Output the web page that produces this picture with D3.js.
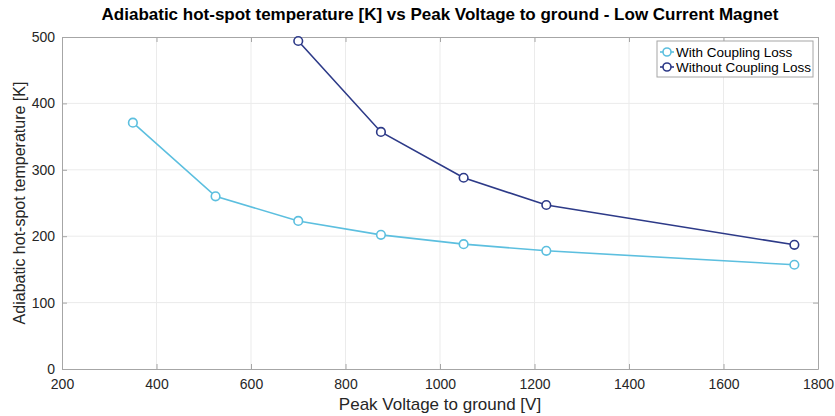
<!DOCTYPE html>
<html>
<head>
<meta charset="utf-8">
<script src="https://cdn.jsdelivr.net/npm/d3@7"></script>
<style>
    body { margin: 0; background: #fff; }
    text { font-family: "Liberation Sans", Arial, sans-serif; }
</style>
</head>
<body>
<div id="chart"></div>
<script>
// data
let voltWith = [350, 525, 700, 875, 1050, 1225, 1750];
let tempWith = [371, 260, 223, 202, 188, 178, 157];

let voltWithout = [700, 875, 1050, 1225, 1750];
let tempWithout = [494, 357, 288, 247, 187];

let xTicks = [200, 400, 600, 800, 1000, 1200, 1400, 1600, 1800];
let yTicks = [0, 100, 200, 300, 400, 500];

let seriesNames = ["With Coupling Loss", "Without Coupling Loss"];
let seriesColors = ["#5cbfdf", "#2d3a88"];

let width = 835, height = 416;
let margin = {top: 37, right: 17, bottom: 47, left: 62};
let w = width - margin.left - margin.right;
let h = height - margin.top - margin.bottom;

let svg = d3.select("#chart").append("svg")
    .attr("width", width)
    .attr("height", height);

let x = d3.scaleLinear().domain([200, 1800]).range([0, w]);
let y = d3.scaleLinear().domain([0, 500]).range([h, 0]);

let g = svg.append("g")
    .attr("transform", `translate(${margin.left},${margin.top})`);

// grid
g.selectAll(".xgrid").data(xTicks.slice(1, -1)).enter().append("line")
    .attr("x1", d => x(d)).attr("x2", d => x(d))
    .attr("y1", 0).attr("y2", h)
    .attr("stroke", "#ebebeb").attr("stroke-width", 1);

g.selectAll(".ygrid").data(yTicks.slice(1, -1)).enter().append("line")
    .attr("x1", 0).attr("x2", w)
    .attr("y1", d => y(d)).attr("y2", d => y(d))
    .attr("stroke", "#ebebeb").attr("stroke-width", 1);

// axes (matlab style, inward ticks on all four sides)
let tickStyle = axis => axis.call(a => a.select(".domain").attr("stroke", "#a6a6a6"))
    .call(a => a.selectAll(".tick line").attr("stroke", "#a6a6a6"))
    .call(a => a.selectAll(".tick text").attr("fill", "#262626").attr("font-size", "14px")
        .style("font-family", "Liberation Sans, Arial, sans-serif"));

let fmt = d3.format("d");

g.append("g")
    .attr("transform", `translate(0,${h})`)
    .call(d3.axisBottom(x).tickValues(xTicks).tickSize(-5).tickSizeOuter(0).tickPadding(10).tickFormat(fmt))
    .call(tickStyle);

g.append("g")
    .call(d3.axisTop(x).tickValues(xTicks).tickSize(-5).tickSizeOuter(0).tickFormat(""))
    .call(tickStyle);

g.append("g")
    .call(d3.axisLeft(y).tickValues(yTicks).tickSize(-5).tickSizeOuter(0).tickPadding(7).tickFormat(fmt))
    .call(tickStyle);

g.append("g")
    .attr("transform", `translate(${w},0)`)
    .call(d3.axisRight(y).tickValues(yTicks).tickSize(-5).tickSizeOuter(0).tickFormat(""))
    .call(tickStyle);

// lines
let line = d3.line().x(d => x(d[0])).y(d => y(d[1]));
let series = [
    d3.zip(voltWith, tempWith),
    d3.zip(voltWithout, tempWithout)
];

series.forEach((pts, i) => {
    g.append("path")
        .datum(pts)
        .attr("d", line)
        .attr("fill", "none")
        .attr("stroke", seriesColors[i])
        .attr("stroke-width", 1.6);

    g.selectAll(".pt" + i).data(pts).enter().append("circle")
        .attr("cx", d => x(d[0]))
        .attr("cy", d => y(d[1]))
        .attr("r", 4.3)
        .attr("fill", "#fff")
        .attr("stroke", seriesColors[i])
        .attr("stroke-width", 1.6);
});

// title and labels
svg.append("text")
    .attr("x", margin.left + w / 2)
    .attr("y", 20)
    .attr("text-anchor", "middle")
    .attr("font-size", "17px")
    .attr("font-weight", "bold")
    .attr("fill", "#000")
    .text("Adiabatic hot-spot temperature [K] vs Peak Voltage to ground - Low Current Magnet");

svg.append("text")
    .attr("x", margin.left + w / 2)
    .attr("y", 410)
    .attr("text-anchor", "middle")
    .attr("font-size", "17px")
    .attr("fill", "#262626")
    .text("Peak Voltage to ground [V]");

svg.append("text")
    .attr("transform", `translate(25,${margin.top + h / 2}) rotate(-90)`)
    .attr("text-anchor", "middle")
    .attr("font-size", "16px")
    .attr("fill", "#262626")
    .text("Adiabatic hot-spot temperature [K]");

// legend
let legend = svg.append("g").attr("transform", "translate(657,41)");
legend.append("rect")
    .attr("width", 156).attr("height", 36)
    .attr("fill", "#fff").attr("stroke", "#a6a6a6").attr("stroke-width", 1);

seriesNames.forEach((name, i) => {
    let row = legend.append("g").attr("transform", `translate(0,${11 + i * 15})`);
    row.append("line").attr("x1", 3).attr("x2", 17)
        .attr("stroke", seriesColors[i]).attr("stroke-width", 1.6);
    row.append("circle").attr("cx", 10).attr("r", 4)
        .attr("fill", "#fff").attr("stroke", seriesColors[i]).attr("stroke-width", 1.6);
    row.append("text").attr("x", 19).attr("dy", "0.35em")
        .attr("font-size", "13.5px").attr("fill", "#000").text(name);
});
</script>
</body>
</html>
